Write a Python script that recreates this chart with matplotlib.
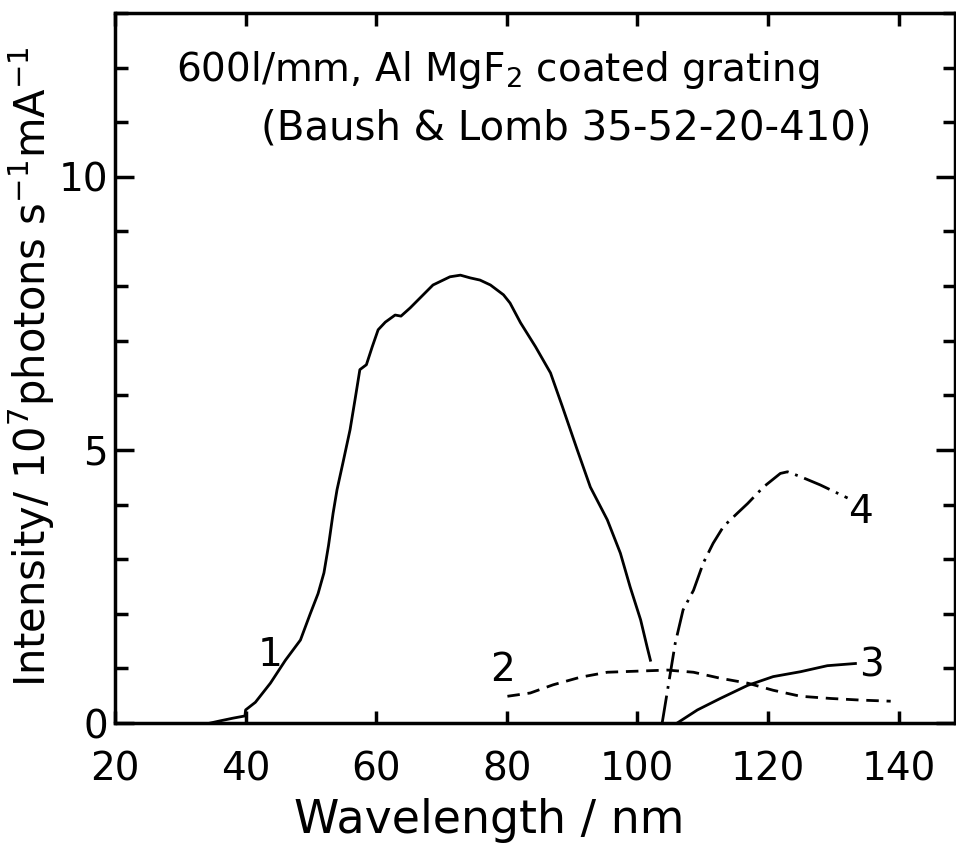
#!/usr/bin/env python3
"""Grating efficiency curves: intensity vs wavelength for 4 orders/settings."""

import numpy as np
import matplotlib
matplotlib.use("Agg")
import matplotlib.pyplot as plt
from matplotlib.ticker import MultipleLocator

plt.rcParams['font.family'] = ['DejaVu Sans']
plt.rcParams['mathtext.default'] = 'regular'

# curve 1 (solid)
wl1 = [34.6, 36.1, 38.1, 39.9, 40.0, 41.5, 43.8, 46.1, 48.4, 49.9, 51.1, 52.0, 52.7,
       53.4, 54.0, 54.9, 56.0, 56.8, 57.5, 58.5, 59.4, 60.3, 61.4, 62.9, 63.8, 65.2,
       66.7, 68.7, 71.3, 72.9, 74.4, 75.9, 77.5, 79.5, 80.5, 82.1, 84.4, 86.7, 88.5,
       90.8, 92.8, 95.4, 97.4, 98.9, 100.5, 101.5, 102.0]
int1 = [0.0, 0.04, 0.09, 0.13, 0.24, 0.38, 0.73, 1.15, 1.52, 2.0, 2.37, 2.75, 3.25,
        3.84, 4.27, 4.76, 5.37, 5.95, 6.47, 6.56, 6.89, 7.2, 7.34, 7.47, 7.45, 7.6,
        7.78, 8.02, 8.17, 8.2, 8.15, 8.11, 8.02, 7.84, 7.69, 7.33, 6.89, 6.41, 5.8,
        5.0, 4.32, 3.72, 3.11, 2.49, 1.89, 1.39, 1.15]

# curve 2 (dashed)
wl2 = [80.1, 83.6, 87.1, 91.3, 95.4, 100.0, 104.6, 108.6, 112.7, 116.9, 120.8,
       125.0, 129.6, 134.2, 138.8]
int2 = [0.49, 0.55, 0.70, 0.84, 0.93, 0.95, 0.97, 0.93, 0.82, 0.73, 0.60,
        0.49, 0.45, 0.42, 0.40]

# curve 3 (solid)
wl3 = [106.1, 109.2, 112.7, 116.9, 120.8, 125.0, 129.1, 133.4]
int3 = [0.0, 0.24, 0.45, 0.69, 0.85, 0.94, 1.05, 1.09]

# curve 4 (dash-dot)
wl4 = [103.8, 104.8, 105.8, 107.0, 108.6, 110.1, 111.6, 113.2, 115.3, 116.9,
       119.3, 121.9, 123.0, 125.0, 128.0, 132.2]
int4 = [0.0, 0.73, 1.46, 2.07, 2.43, 2.93, 3.29, 3.6, 3.84, 4.02,
        4.32, 4.57, 4.6, 4.51, 4.36, 4.12]

curve_labels = ["1", "2", "3", "4"]
label_pos = [(43.7, 1.25), (79.4, 0.97), (135.8, 1.06), (134.2, 3.87)]

fig = plt.figure(figsize=(9.56, 8.43), dpi=100)
ax = fig.add_axes([0.1203, 0.1423, 0.879, 0.8423])

lw = 2.0
ax.plot(wl1, int1, color='k', lw=lw)
ax.plot(wl2, int2, color='k', lw=lw, dashes=(4.5, 2.8))
ax.plot(wl3, int3, color='k', lw=lw)
ax.plot(wl4, int4, color='k', lw=lw, dashes=(10, 2.5, 1, 2.5))

for lab, (x, y) in zip(curve_labels, label_pos):
    ax.text(x, y, lab, fontsize=28, ha='center', va='center')

ax.text(0.455, 0.92, "600l/mm, Al MgF$_2$ coated grating", transform=ax.transAxes,
        fontsize=28, ha='center', va='center')
ax.text(0.537, 0.838, "(Baush & Lomb 35-52-20-410)", transform=ax.transAxes,
        fontsize=29, ha='center', va='center')

ax.set_xlim(20, 148.7)
ax.set_ylim(0, 13)
ax.set_xticks([20, 40, 60, 80, 100, 120, 140])
ax.set_yticks([0, 5, 10])
ax.yaxis.set_minor_locator(MultipleLocator(1))

ax.tick_params(axis='both', which='both', direction='in', top=True, right=True,
               width=2.5, labelsize=28)
ax.tick_params(axis='x', which='major', length=9, pad=20)
ax.tick_params(axis='y', which='major', length=14, pad=5)
ax.tick_params(axis='y', which='minor', length=9)
ax.tick_params(axis='x', which='major', top=True, labeltop=False)

for sp in ax.spines.values():
    sp.set_linewidth(2.5)

fig.text(0.512, 0.012, "Wavelength / nm", fontsize=33, ha='center', va='baseline')
fig.text(0.033, 0.565, "Intensity/ 10$^7$photons s$^{-1}$mA$^{-1}$", fontsize=30,
         rotation=90, ha='center', va='center')

plt.savefig("out.png", dpi=100)
plt.close()
print("Saved out.png")
